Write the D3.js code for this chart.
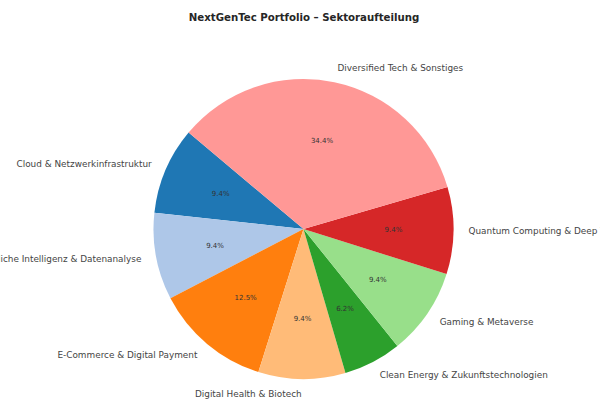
<!DOCTYPE html>
<html>
<head>
<meta charset="utf-8">
<script src="https://cdn.jsdelivr.net/npm/d3@7"></script>
<style>
  html, body { margin: 0; padding: 0; background: #fff; }
  svg { display: block; font-family: "DejaVu Sans", sans-serif; }
</style>
</head>
<body>
<svg id="chart" width="600" height="400"></svg>
<script>
const categories = [
  "Cloud & Netzwerkinfrastruktur",
  "Künstliche Intelligenz & Datenanalyse",
  "E-Commerce & Digital Payment",
  "Digital Health & Biotech",
  "Clean Energy & Zukunftstechnologien",
  "Gaming & Metaverse",
  "Quantum Computing & Deep Tech",
  "Diversified Tech & Sonstiges"
];
const values = [3, 3, 4, 3, 2, 3, 3, 11];
const colors = ["#1f77b4", "#aec7e8", "#ff7f0e", "#ffbb78", "#2ca02c", "#98df8a", "#d62728", "#ff9896"];
const title = "NextGenTec Portfolio – Sektoraufteilung";
const startAngleDeg = 140;

const svg = d3.select("#chart");
const cx = 303.5, cy = 229, r = 150;

svg.append("text")
  .attr("x", 304).attr("y", 17)
  .attr("text-anchor", "middle").attr("dominant-baseline", "central")
  .attr("font-weight", "bold").attr("font-size", 10.2)
  .attr("fill", "#262626")
  .text(title);

const data = categories.map((c, i) => ({ name: c, value: values[i], color: colors[i] }));
const total = d3.sum(values);

// round half to even, like Python's "%1.1f"
function fmtPct(p) {
  const v = p * 10;
  const f = Math.floor(v);
  const diff = v - f;
  let n;
  if (Math.abs(diff - 0.5) < 1e-9) n = (f % 2 === 0) ? f : f + 1;
  else n = Math.round(v);
  return (n / 10).toFixed(1) + "%";
}

const start = (90 - startAngleDeg) * Math.PI / 180;
const pie = d3.pie().value(d => d.value).sort(null)
  .startAngle(start).endAngle(start - 2 * Math.PI);
const arcs = pie(data);
const arc = d3.arc().innerRadius(0).outerRadius(r);

const g = svg.append("g").attr("transform", `translate(${cx},${cy})`);
g.selectAll("path").data(arcs).enter().append("path")
  .attr("d", arc)
  .attr("fill", d => d.data.color);

function pos(d, k) {
  const a = (d.startAngle + d.endAngle) / 2;
  return [k * r * Math.sin(a), -k * r * Math.cos(a)];
}

g.selectAll("text.pct").data(arcs).enter().append("text")
  .attr("class", "pct")
  .attr("x", d => pos(d, 0.6)[0]).attr("y", d => pos(d, 0.6)[1])
  .attr("text-anchor", "middle").attr("dominant-baseline", "central")
  .attr("font-size", 7).attr("fill", "#333")
  .text(d => fmtPct(d.data.value / total * 100));

g.selectAll("text.lbl").data(arcs).enter().append("text")
  .attr("class", "lbl")
  .attr("x", d => pos(d, 1.1)[0]).attr("y", d => pos(d, 1.1)[1])
  .attr("text-anchor", d => pos(d, 1.1)[0] > 0 ? "start" : "end")
  .attr("dominant-baseline", "central")
  .attr("font-size", 8.9).attr("fill", "#444")
  .text(d => d.data.name);
</script>
</body>
</html>
